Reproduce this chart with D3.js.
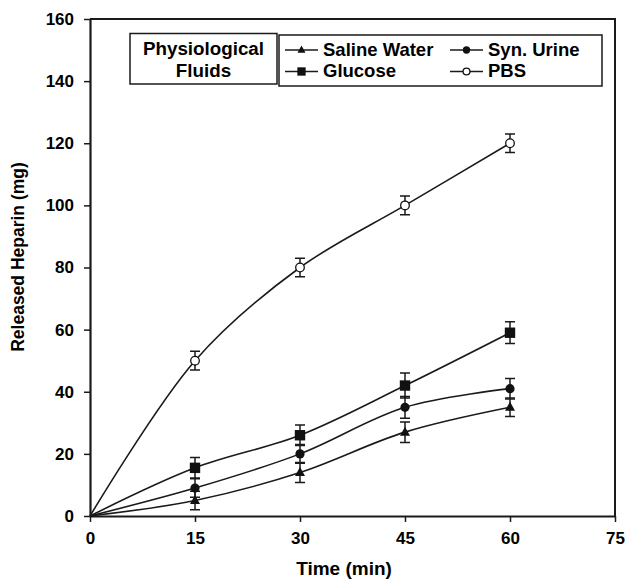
<!DOCTYPE html>
<html>
<head>
<meta charset="utf-8">
<script src="https://cdn.jsdelivr.net/npm/d3@7"></script>
<style>
  html, body { margin: 0; padding: 0; background: #fff; }
  svg { display: block; font-family: "Liberation Sans", Arial, sans-serif; }
</style>
</head>
<body>
<svg id="chart" width="628" height="579"></svg>
<script>
// Release time points (min)
const times = [0, 15, 30, 45, 60];

// Released heparin (mg) per physiological fluid, with standard deviations
const salineWater = [0, 5, 14, 27, 35];
const salineErr   = [0, 3, 3.2, 3.3, 3];
const synUrine    = [0, 9, 20, 35, 41];
const synErr      = [0, 3, 3, 3.5, 3.3];
const glucose     = [0, 15.5, 26, 42, 59];
const glucoseErr  = [0, 3.3, 3.3, 4, 3.5];
const pbs         = [0, 50, 80, 100, 120];
const pbsErr      = [0, 3, 3, 3, 3];

const xTicks = [0, 15, 30, 45, 60, 75];
const yTicks = [0, 20, 40, 60, 80, 100, 120, 140, 160];

const seriesNames = ["Saline Water", "Syn. Urine", "Glucose", "PBS"];
const legendTitle = ["Physiological", "Fluids"];

const series = [
  { name: seriesNames[0], values: salineWater, err: salineErr, marker: "triangle" },
  { name: seriesNames[1], values: synUrine,    err: synErr,    marker: "circle" },
  { name: seriesNames[2], values: glucose,     err: glucoseErr, marker: "square" },
  { name: seriesNames[3], values: pbs,         err: pbsErr,    marker: "open" }
];

const svg = d3.select("#chart");
const plotL = 90, plotR = 615, plotT = 19, plotB = 516;

const x = d3.scaleLinear().domain([0, 75]).range([plotL, plotR]);
const y = d3.scaleLinear().domain([0, 160]).range([plotB, plotT]);

// plot frame: top and right edges
svg.append("path")
  .attr("d", `M${plotL},${plotT}H${plotR}V${plotB}`)
  .attr("fill", "none").attr("stroke", "#1a1a1a").attr("stroke-width", 2);

// axes
const xAxis = svg.append("g").attr("transform", `translate(0,${plotB})`)
  .call(d3.axisBottom(x).tickValues(xTicks).tickSize(6).tickPadding(10).tickSizeOuter(0));
const yAxis = svg.append("g").attr("transform", `translate(${plotL},0)`)
  .call(d3.axisLeft(y).tickValues(yTicks).tickSize(6).tickPadding(10).tickSizeOuter(0));

[xAxis, yAxis].forEach(g => {
  g.select(".domain").attr("stroke", "#1a1a1a").attr("stroke-width", 2.2);
  g.selectAll(".tick line").attr("stroke", "#1a1a1a").attr("stroke-width", 1.5);
  g.selectAll(".tick text")
    .attr("fill", "#000").style("font-size", "17px").style("font-weight", "bold")
    .style("font-family", "'Liberation Sans', Arial, sans-serif");
});

// axis titles
svg.append("text")
  .attr("x", 344).attr("y", 575).attr("text-anchor", "middle")
  .style("font-size", "19px").style("font-weight", "bold").attr("fill", "#000")
  .text("Time (min)");
svg.append("text")
  .attr("transform", "translate(24,257) rotate(-90)").attr("text-anchor", "middle")
  .style("font-size", "17.5px").style("font-weight", "bold").attr("fill", "#000")
  .text("Released Heparin (mg)");

// markers
function drawMarker(g, type, cx, cy, s) {
  if (type === "triangle") {
    g.append("path")
      .attr("d", `M${cx},${cy - 5.5 * s}L${cx + 5 * s},${cy + 3.5 * s}L${cx - 5 * s},${cy + 3.5 * s}Z`)
      .attr("fill", "#111");
  } else if (type === "circle") {
    g.append("circle").attr("cx", cx).attr("cy", cy).attr("r", 4.6 * s).attr("fill", "#111");
  } else if (type === "square") {
    g.append("rect").attr("x", cx - 5.2 * s).attr("y", cy - 5.2 * s)
      .attr("width", 10.4 * s).attr("height", 10.4 * s).attr("fill", "#111");
  } else {
    g.append("circle").attr("cx", cx).attr("cy", cy).attr("r", 4.3 * s)
      .attr("fill", "#fff").attr("stroke", "#111").attr("stroke-width", 1.3);
  }
}

const line = d3.line()
  .x((d, i) => x(times[i]))
  .y(d => y(d))
  .curve(d3.curveCatmullRom);

series.forEach(s => {
  const g = svg.append("g");
  g.append("path").attr("d", line(s.values))
    .attr("fill", "none").attr("stroke", "#1a1a1a").attr("stroke-width", 1.6);

  // error bars
  s.values.forEach((v, i) => {
    if (!s.err[i]) return;
    const cx = x(times[i]);
    const y0 = y(v - s.err[i]), y1 = y(v + s.err[i]);
    g.append("path")
      .attr("d", `M${cx},${y0}V${y1}M${cx - 5},${y0}H${cx + 5}M${cx - 5},${y1}H${cx + 5}`)
      .attr("fill", "none").attr("stroke", "#1a1a1a").attr("stroke-width", 1.5);
  });

  s.values.forEach((v, i) => {
    if (i === 0) return;
    drawMarker(g, s.marker, x(times[i]), y(v), 1);
  });
});

// legend
const lg = svg.append("g");
lg.append("rect").attr("x", 130).attr("y", 33.5).attr("width", 147).attr("height", 50.5)
  .attr("fill", "#fff").attr("stroke", "#1a1a1a").attr("stroke-width", 1.5);
lg.append("rect").attr("x", 279).attr("y", 35).attr("width", 323).attr("height", 51)
  .attr("fill", "#fff").attr("stroke", "#1a1a1a").attr("stroke-width", 1.5);
legendTitle.forEach((t, i) => {
  lg.append("text").attr("x", 203.5).attr("y", 55 + i * 21.5).attr("text-anchor", "middle")
    .style("font-size", "18.8px").style("font-weight", "bold").attr("fill", "#000").text(t);
});

const legendPos = [
  { lx: 285, ly: 50 },   // Saline Water
  { lx: 450, ly: 50 },   // Syn. Urine
  { lx: 285, ly: 71.5 }, // Glucose
  { lx: 450, ly: 71.5 }  // PBS
];
series.forEach((s, i) => {
  const p = legendPos[i];
  lg.append("line").attr("x1", p.lx).attr("x2", p.lx + 33).attr("y1", p.ly).attr("y2", p.ly)
    .attr("stroke", "#1a1a1a").attr("stroke-width", 1.5);
  drawMarker(lg, s.marker, p.lx + 16.5, p.ly, 0.8);
  lg.append("text").attr("x", p.lx + 38).attr("y", p.ly + 5.5)
    .style("font-size", "18.5px").style("font-weight", "bold").attr("fill", "#000").text(s.name);
});
</script>
</body>
</html>
